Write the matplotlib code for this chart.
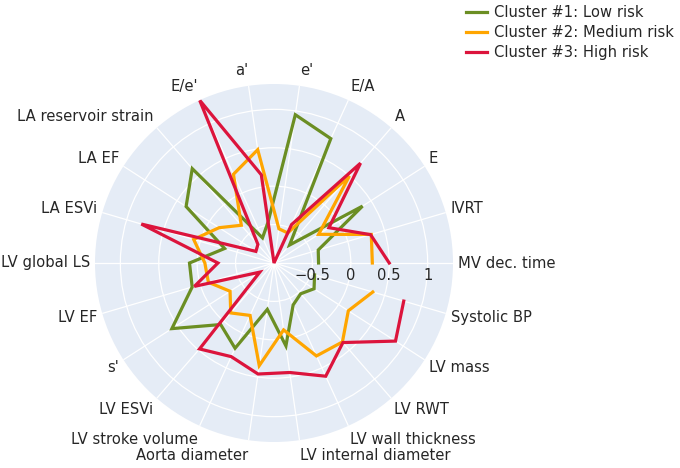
import numpy as np
import matplotlib
matplotlib.use("Agg")
import matplotlib.pyplot as plt
import matplotlib.transforms as mtransforms

categories = ["MV dec. time", "IVRT", "E", "A", "E/A", "e'", "a'", "E/e'",
              "LA reservoir strain", "LA EF", "LA ESVi", "LV global LS", "LV EF",
              "s'", "LV ESVi", "LV stroke volume", "Aorta diameter",
              "LV internal diameter", "LV wall thickness", "LV RWT", "LV mass",
              "Systolic BP"]

cluster1 = [-0.42, -0.40, 0.37, -0.69, 0.78, 0.95, -0.46, -0.64, 0.625, 0.36, -0.33,
            0.10, 0.11, 0.58, 0.06, 0.22, -0.39, 0.09, -0.40, -0.47, -0.38, -0.45]
cluster2 = [0.28, 0.32, -0.31, 0.50, -0.57, -0.55, 0.49, 0.27, -0.35, -0.15, 0.09,
            -0.10, -0.11, -0.32, -0.14, -0.25, 0.35, -0.12, 0.33, 0.36, 0.15, 0.34]
cluster3 = [0.50, 0.31, -0.15, 0.72, -0.45, -1.0, 0.16, 1.33, -0.68, -0.72, 0.80,
            -0.27, 0.08, -0.78, 0.48, 0.34, 0.46, 0.44, 0.62, 0.37, 0.88, 0.76]

series_names = ["Cluster #1: Low risk", "Cluster #2: Medium risk", "Cluster #3: High risk"]
series_colors = ["#6b8e23", "#ffa500", "#dc143c"]

r_ticks = [-0.5, 0, 0.5, 1]
r_tick_labels = ["\u22120.5", "0", "0.5", "1"]
r_min, r_max = -1.0, 1.33

W, H = 680, 468
fig = plt.figure(figsize=(W / 100, H / 100), dpi=100)
cx, cy, rad = 274, 263, 179
ax = fig.add_axes([(cx - rad) / W, (H - cy - rad) / H, 2 * rad / W, 2 * rad / H],
                  projection="polar")
ax.set_facecolor("#e5ecf6")
ax.spines["polar"].set_visible(False)

n = len(categories)
theta = np.arange(n) * 2 * np.pi / n

for vals, name, col in zip([cluster1, cluster2, cluster3], series_names, series_colors):
    ax.plot(theta, vals, color=col, lw=2.3, label=name, solid_joinstyle="miter", zorder=3)

ax.set_ylim(r_min, r_max)
ax.set_yticks(r_ticks)
ax.set_yticklabels([])
ax.set_xticks(theta)
ax.set_xticklabels([])
ax.tick_params(length=0)
ax.grid(True, color="white", lw=0.9)

fs = 10.6
txt_col = "#262626"
for t, lab in zip(theta, categories):
    c, s = np.cos(t), np.sin(t)
    if abs(c) < 0.05:
        ha = "center"
    elif c > 0:
        ha = "left"
    else:
        ha = "right"
    pad = 5
    dx = c * pad
    dy = s * pad + s * 10
    tr = mtransforms.offset_copy(ax.transData, fig=fig, x=dx, y=dy, units="dots")
    ax.text(t, r_max, lab, transform=tr, ha=ha, va="center", fontsize=fs,
            color=txt_col, clip_on=False)

for rv, lab in zip(r_ticks, r_tick_labels):
    tr = mtransforms.offset_copy(ax.transData, fig=fig, x=0, y=-12, units="dots")
    ax.text(0, rv, lab, transform=tr, ha="center", va="center", fontsize=fs,
            color=txt_col, zorder=4)

leg = fig.legend(loc="upper left", bbox_to_anchor=(466 / W, 1 - 5 / H), frameon=False,
                 fontsize=fs, handlelength=1.45, handletextpad=0.45, labelspacing=0.33,
                 borderpad=0, borderaxespad=0)
for txt in leg.get_texts():
    txt.set_color(txt_col)

fig.savefig("out.png", dpi=100)
